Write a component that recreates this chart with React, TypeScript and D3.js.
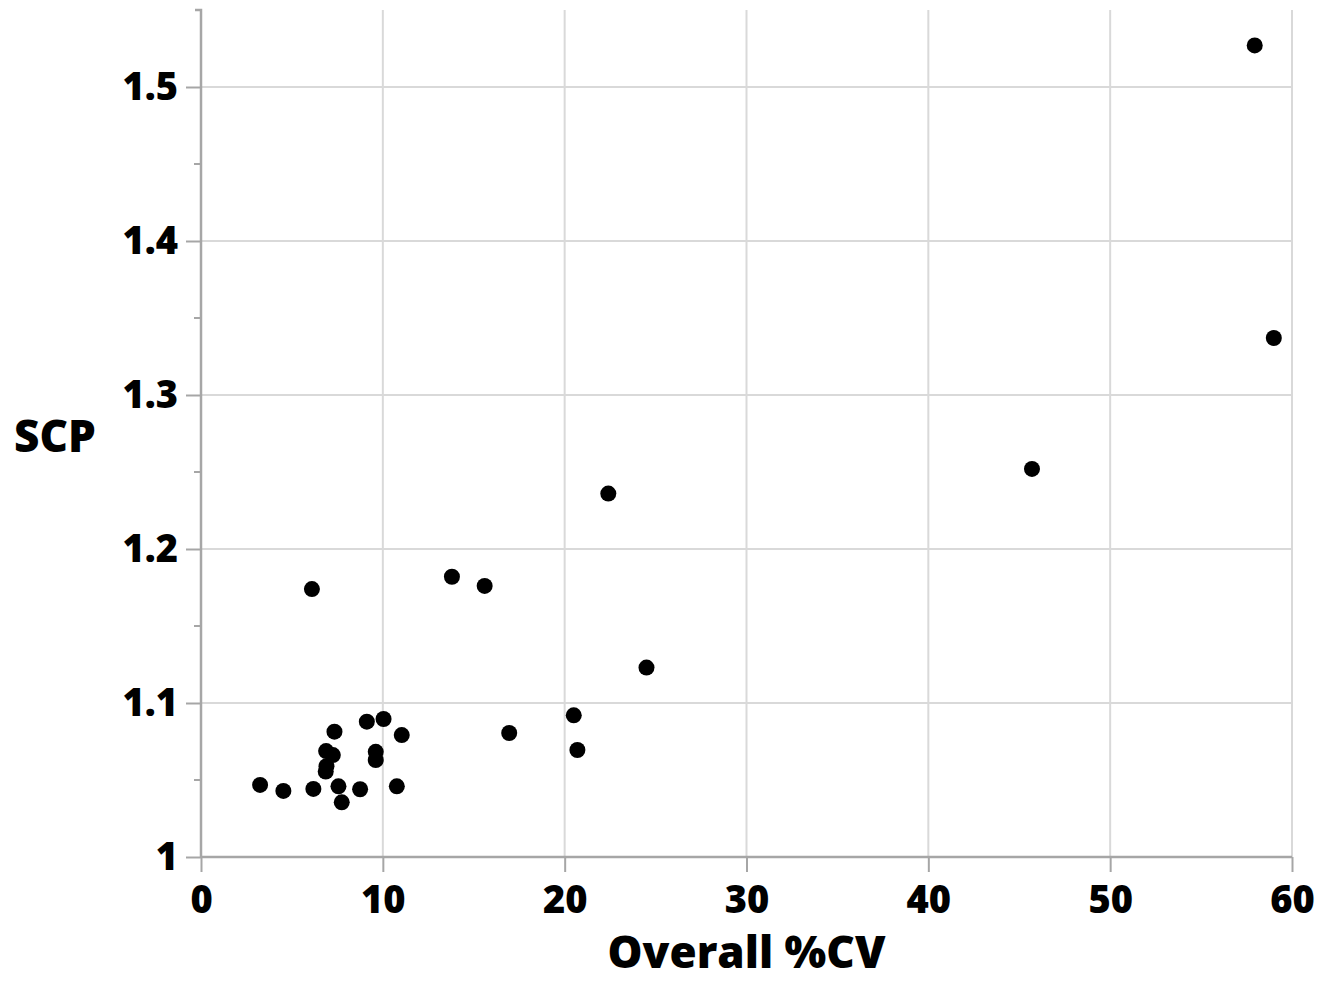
import React, { useEffect, useRef } from 'react';
import * as d3 from 'd3';

// Overall %CV vs SCP
const cvValues = [
  57.95, 59.0, 45.7, 22.4, 6.1, 13.8, 15.6, 24.5, 20.5, 20.7, 16.95,
  3.25, 4.53, 6.18, 7.56, 7.74, 8.75, 10.77, 6.86, 6.9, 6.88, 7.25,
  7.34, 9.12, 10.04, 11.04, 9.61, 9.61,
];
const scpValues = [
  1.527, 1.337, 1.252, 1.236, 1.174, 1.182, 1.176, 1.123, 1.092, 1.0695, 1.0805,
  1.0468, 1.0429, 1.0442, 1.0459, 1.0355, 1.044, 1.0459, 1.0555, 1.059, 1.0688, 1.0662,
  1.0814, 1.0879, 1.0896, 1.0792, 1.0683, 1.063,
];
const xTicks = [0, 10, 20, 30, 40, 50, 60];
const yTicks = [1, 1.1, 1.2, 1.3, 1.4, 1.5];
const yMinorTicks = [1.05, 1.15, 1.25, 1.35, 1.45];

const App = () => {
  const ref = useRef<SVGSVGElement>(null);

  useEffect(() => {
    const svg = d3.select(ref.current);
    svg.selectAll('*').remove();

    const x = d3.scaleLinear().domain([0, 60]).range([201, 1292]);
    const y = d3.scaleLinear().domain([1, 1.55]).range([857, 10]);
    const font = "'Open Sans', 'Noto Sans', sans-serif";

    // grid
    svg.append('g')
      .selectAll('line')
      .data(xTicks.slice(1))
      .join('line')
      .attr('x1', (d) => x(d)).attr('x2', (d) => x(d))
      .attr('y1', y(1.55)).attr('y2', y(1))
      .attr('stroke', '#d9d9d9').attr('stroke-width', 2);
    svg.append('g')
      .selectAll('line')
      .data(yTicks.slice(1))
      .join('line')
      .attr('x1', x(0)).attr('x2', x(60))
      .attr('y1', (d) => y(d)).attr('y2', (d) => y(d))
      .attr('stroke', '#d9d9d9').attr('stroke-width', 2);

    // x axis
    const xAxis = d3.axisBottom(x).tickValues(xTicks).tickSize(15).tickPadding(14)
      .tickFormat((d) => String(d));
    const gx = svg.append('g').attr('transform', `translate(0,${y(1)})`).call(xAxis);
    gx.select('.domain').attr('stroke', '#a6a6a6').attr('stroke-width', 2.5)
      .attr('d', `M${x(0)},0H${x(60)}`);
    gx.selectAll('.tick line').attr('stroke', '#a6a6a6').attr('stroke-width', 2);
    gx.selectAll('.tick text')
      .attr('font-family', font).attr('font-weight', 800).attr('font-size', 38)
      .attr('fill', '#000');

    // y axis
    const yAxis = d3.axisLeft(y).tickValues(yTicks).tickSize(15).tickPadding(8)
      .tickFormat((d) => String(d));
    const gy = svg.append('g').attr('transform', `translate(${x(0)},0)`).call(yAxis);
    gy.select('.domain').attr('stroke', '#a6a6a6').attr('stroke-width', 2.5)
      .attr('d', `M-6,${y(1.55)}H0V${y(1)}`);
    gy.selectAll('.tick line').attr('stroke', '#a6a6a6').attr('stroke-width', 2);
    gy.selectAll('.tick text')
      .attr('font-family', font).attr('font-weight', 800).attr('font-size', 38)
      .attr('fill', '#000');
    gy.append('g')
      .selectAll('line')
      .data(yMinorTicks)
      .join('line')
      .attr('x1', -7).attr('x2', 0)
      .attr('y1', (d) => y(d)).attr('y2', (d) => y(d))
      .attr('stroke', '#a6a6a6').attr('stroke-width', 2);

    // points
    svg.append('g')
      .selectAll('circle')
      .data(cvValues.map((v, i) => ({ cv: v, scp: scpValues[i] })))
      .join('circle')
      .attr('cx', (d) => x(d.cv))
      .attr('cy', (d) => y(d.scp))
      .attr('r', 8)
      .attr('fill', '#000');

    // labels
    svg.append('text')
      .attr('x', (x(0) + x(60)) / 2).attr('y', 968)
      .attr('text-anchor', 'middle')
      .attr('font-family', font).attr('font-weight', 800).attr('font-size', 44)
      .text('Overall %CV');
    svg.append('text')
      .attr('x', 14).attr('y', 452)
      .attr('font-family', font).attr('font-weight', 800).attr('font-size', 44)
      .text('SCP');
  }, []);

  return (
    <svg ref={ref} width={1318} height={981}
      style={{ position: 'absolute', left: 0, top: 0, background: '#fff' }} />
  );
};

export default App;
